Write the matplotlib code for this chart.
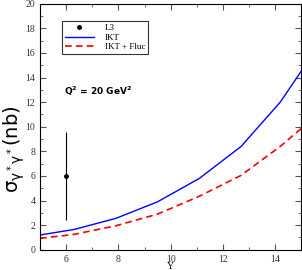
import numpy as np
import matplotlib
matplotlib.use("Agg")
import matplotlib.pyplot as plt
from matplotlib.lines import Line2D
from matplotlib.ticker import MultipleLocator

plt.rcParams["mathtext.default"] = "regular"

# curves
y_rap = [5.0, 6.3, 7.9, 9.5, 11.1, 12.7, 14.2, 15.0]
ikt = [1.2, 1.65, 2.55, 3.9, 5.8, 8.4, 12.0, 14.5]
ikt_fluc = [0.93, 1.25, 1.95, 2.9, 4.35, 6.05, 8.4, 9.85]

# L3 data point
l3_y = [6.0]
l3_sigma = [6.0]
l3_err = [3.6]

fig = plt.figure(figsize=(3.02, 2.70), dpi=100)
ax = fig.add_axes([0.133, 0.075, 0.864, 0.911])

ax.errorbar(l3_y, l3_sigma, yerr=l3_err, fmt="o", color="black", ms=2.5,
            elinewidth=0.8, capsize=0)
h_ikt, = ax.plot(y_rap, ikt, color="blue", lw=1.0)
h_fl, = ax.plot(y_rap, ikt_fluc, color="red", lw=1.2, dashes=(4, 2.5))
h_l3 = Line2D([], [], marker="o", ls="none", color="black", ms=2.5)

ax.set_xlim(5, 15)
ax.set_ylim(0, 20)
ax.xaxis.set_major_locator(MultipleLocator(2))
ax.xaxis.set_minor_locator(MultipleLocator(1))
ax.yaxis.set_major_locator(MultipleLocator(2))
ax.yaxis.set_minor_locator(MultipleLocator(1))
ax.tick_params(which="both", direction="in", top=True, right=True,
               color="#555555", labelsize=7, labelcolor="#333333")
ax.tick_params(which="major", length=4, width=0.8)
ax.tick_params(which="minor", length=2, width=0.6)
for lab in ax.get_xticklabels() + ax.get_yticklabels():
    lab.set_family("Liberation Serif")

ax.set_xlabel("Y", family="Liberation Serif", fontsize=7, labelpad=-1)
ax.set_ylabel(r"$\sigma_{\gamma^*\gamma^*}$(nb)", fontsize=14)
ax.yaxis.set_label_coords(-0.05, 0.41)

ax.text(0.09, 0.63, r"$\mathbf{Q^2}$ = 20 GeV$^\mathbf{2}$", transform=ax.transAxes,
        fontsize=6.5, fontweight="bold", va="baseline")

leg = ax.legend([h_l3, h_ikt, h_fl], ["L3", "IKT", "IKT + Fluc"],
                loc="upper left", bbox_to_anchor=(0.083, 0.93), borderaxespad=0,
                prop={"family": "Liberation Serif", "size": 6.5},
                frameon=True, fancybox=False, edgecolor="black",
                handlelength=3.2, borderpad=0.35, labelspacing=0.1,
                handletextpad=1.2)
leg.get_frame().set_linewidth(0.8)

fig.savefig("out.png", dpi=100)
